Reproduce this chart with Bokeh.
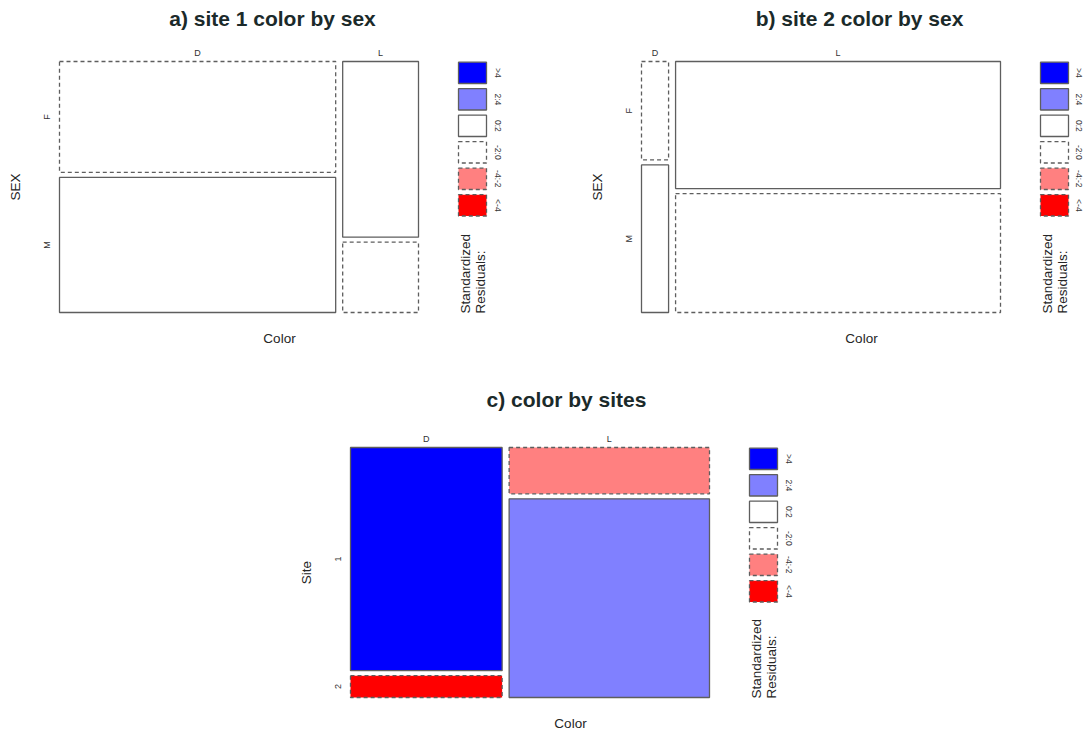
import math
from bokeh.plotting import figure
from bokeh.models import Range1d, ColumnDataSource
from bokeh.embed import file_html
from bokeh.resources import INLINE
from bokeh.core.properties import value

# ---------------- data (counts) ----------------
colors = ["D", "L"]
sexes = ["F", "M"]
sites = ["1", "2"]
# counts per colour (D, L) for each sex at each site
site1_female = [23, 10]
site1_male = [28, 4]
site2_female = [2, 31]
site2_male = [3, 29]

# residual legend bins
bin_labels = [">4", "2:4", "0:2", "-2:0", "-4:-2", "<-4"]
bin_fills = ["#0000FF", "#8080FF", "#FFFFFF", "#FFFFFF", "#FF8080", "#FF0000"]
bin_dashed = [False, False, False, True, True, True]

FONT = "Liberation Sans"
LINE = "#5e5e5e"
DASH = "4 3"
TXT = "#262626"

# page canvas (pixel units, y measured downward from the top of the window)
PAGE_W, PAGE_H = 1084, 735
ORIGIN = 0

p = figure(width=PAGE_W, height=PAGE_H,
           x_range=Range1d(ORIGIN, ORIGIN + PAGE_W),
           y_range=Range1d(ORIGIN, ORIGIN + PAGE_H),
           x_axis_location=None, y_axis_location=None,
           min_border=0, toolbar_location=None, output_backend="svg",
           outline_line_color=None)
p.xgrid.visible = False
p.ygrid.visible = False
p.background_fill_color = "white"
p.border_fill_color = "white"


def Y(s):
    """screen y (downwards) -> data y (upwards)"""
    return 2 * ORIGIN + PAGE_H - s


def bin_index(r):
    if r > 4:
        return 0
    if r > 2:
        return 1
    if r >= 0:
        return 2
    if r > -2:
        return 3
    if r > -4:
        return 4
    return 5


def mosaic(table, L, T, W, H, gx, gy):
    """table[col][row] -> cells (screen coords) with Pearson residual bins."""
    ncol = len(table)
    nrow = len(table[0])
    N = float(sum(sum(c) for c in table))
    row_tot = [sum(table[c][r] for c in range(ncol)) for r in range(nrow)]
    avail_w = W - gx * (ncol - 1)
    avail_h = H - gy * (nrow - 1)
    cells = []
    x = float(L)
    for c, col in enumerate(table):
        ctot = float(sum(col))
        cw = avail_w * ctot / N
        y = float(T)
        for r, n in enumerate(col):
            rh = avail_h * n / ctot
            E = row_tot[r] * ctot / N
            res = (n - E) / math.sqrt(E)
            cells.append(dict(c=c, r=r, left=x, right=x + cw, top=y, bottom=y + rh,
                              b=bin_index(res)))
            y += rh + gy
        x += cw + gx
    return cells


def boxes(cells):
    for dashed in (False, True):
        sel = [c for c in cells if bin_dashed[c["b"]] == dashed]
        if not sel:
            continue
        src = ColumnDataSource(dict(
            left=[c["left"] for c in sel], right=[c["right"] for c in sel],
            top=[Y(c["top"]) for c in sel], bottom=[Y(c["bottom"]) for c in sel],
            fill=[bin_fills[c["b"]] for c in sel]))
        p.quad(left="left", right="right", top="top", bottom="bottom", source=src,
               fill_color="fill", line_color=LINE, line_width=1.3,
               line_dash=DASH if dashed else "solid")


def txt(xs, ys, texts, size, angle=0.0, align="center", baseline="middle",
        bold=False, color=TXT):
    p.text(x=xs, y=[Y(v) for v in ys], text=texts, angle=angle, text_align=align,
           text_baseline=baseline, text_font=value(FONT), text_font_size=value(size),
           text_font_style="bold" if bold else "normal", text_color=color)


def panel(title, title_xy, table, xlabels, ylabels, ylab, L, T, W, H, lab_off):
    cells = mosaic(table, L, T, W, H, 7, 5)
    boxes(cells)
    ncol = len(table)
    col_centers = []
    for c in range(ncol):
        cc = [x for x in cells if x["c"] == c][0]
        col_centers.append((cc["left"] + cc["right"]) / 2.0)
    row_centers = [(x["top"] + x["bottom"]) / 2.0 for x in cells if x["c"] == 0]

    # category labels
    txt(col_centers, [T - 9] * ncol, xlabels, "9px", color="#333333")
    txt([L - 13] * len(row_centers), row_centers, ylabels, "9px", angle=math.pi / 2,
        color="#333333")
    # variable names
    txt([L - 44], [T + H / 2.0], [ylab], "13.5px", angle=math.pi / 2)
    txt([L + 220], [T + H + 26], ["Color"], "13.5px")
    # title
    txt([title_xy[0]], [title_xy[1]], [title], "21px", bold=True, color="#1b2a2a")

    # legend of residual shading
    R = L + W
    tops = [T + 0.7 + 26.5 * i for i in range(6)]
    bots = [t + 21.3 for t in tops]
    leg = [dict(left=R + 40, right=R + 68, top=t, bottom=b, b=i)
           for i, (t, b) in enumerate(zip(tops, bots))]
    boxes(leg)
    txt([R + lab_off] * 6, [(t + b) / 2 for t, b in zip(tops, bots)], bin_labels, "8.5px",
        angle=-math.pi / 2, color="#333333")
    txt([R + 47, R + 62], [T + H + 1] * 2, ["Standardized", "Residuals:"], "13.5px",
        angle=math.pi / 2, align="left")


table_a = [[site1_female[0], site1_male[0]], [site1_female[1], site1_male[1]]]
table_b = [[site2_female[0], site2_male[0]], [site2_female[1], site2_male[1]]]
site1_tot = [site1_female[i] + site1_male[i] for i in range(2)]
site2_tot = [site2_female[i] + site2_male[i] for i in range(2)]
table_c = [[site1_tot[0], site2_tot[0]], [site1_tot[1], site2_tot[1]]]

panel("a) site 1 color by sex", (272, 18), table_a, colors, sexes, "SEX",
      59, 61, 359, 251, 79)
panel("b) site 2 color by sex", (859, 18), table_b, colors, sexes, "SEX",
      641, 61, 359, 251, 78)
panel("c) color by sites", (566, 399), table_c, colors, sites, "Site",
      350, 447, 359, 250, 79)

open("out.html", "w").write(file_html(p, INLINE))
